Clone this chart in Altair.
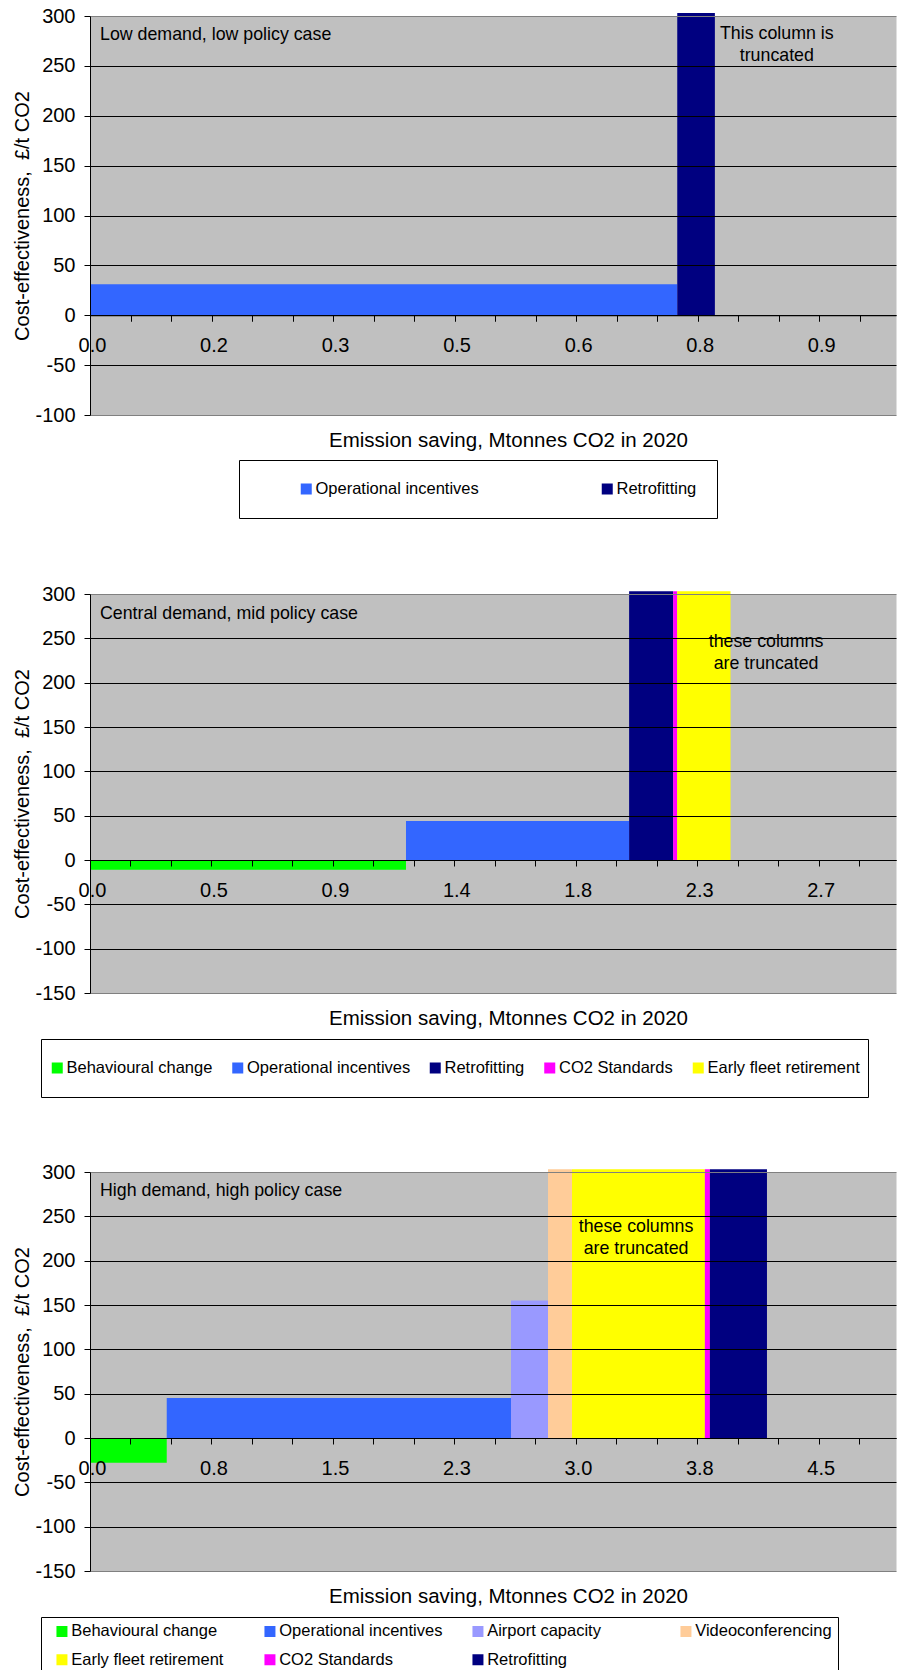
import json

import altair as alt
import pandas as pd

FONT = "Liberation Sans, Arial, sans-serif"

# Colour of each measure, identical in all three cases
COLOURS = {
    "Behavioural change": "#00FF00",
    "Operational incentives": "#3366FF",
    "Airport capacity": "#9999FF",
    "Videoconferencing": "#FFCC99",
    "Early fleet retirement": "#FFFF00",
    "CO2 Standards": "#FF00FF",
    "Retrofitting": "#000080",
}

CUT = 303  # off-scale columns are drawn up to here (just past the 300 limit)

# ---- Low demand, low policy case
LOW_MEASURES = ["Operational incentives", "Retrofitting"]
LOW_SAVING = [0.749, 0.048]  # Mt CO2 saved in 2020
LOW_COST = [31, CUT]  # £/t CO2
LOW_TICKS = ["0.0", "0.2", "0.3", "0.5", "0.6", "0.8", "0.9"]
LOW_TICK_STEP = 0.155
LOW_X_MAX = 1.028

# ---- Central demand, mid policy case
MID_MEASURES = ["Behavioural change", "Operational incentives", "Retrofitting",
                "CO2 Standards", "Early fleet retirement"]
MID_SAVING = [1.184, 0.836, 0.165, 0.015, 0.200]
MID_COST = [-11, 44, CUT, CUT, CUT]
MID_TICKS = ["0.0", "0.5", "0.9", "1.4", "1.8", "2.3", "2.7"]
MID_TICK_STEP = 0.455
MID_X_MAX = 3.02

# ---- High demand, high policy case
HIGH_MEASURES = ["Behavioural change", "Operational incentives", "Airport capacity",
                 "Videoconferencing", "Early fleet retirement", "CO2 Standards",
                 "Retrofitting"]
HIGH_SAVING = [0.477, 2.140, 0.230, 0.149, 0.826, 0.031, 0.355]
HIGH_COST = [-28, 45, 155, CUT, CUT, CUT, CUT]
HIGH_TICKS = ["0.0", "0.8", "1.5", "2.3", "3.0", "3.8", "4.5"]
HIGH_TICK_STEP = 0.755
HIGH_X_MAX = 5.01

W, H = 806, 399
Y_MAX = 300
X_TITLE = "Emission saving, Mtonnes CO2 in 2020"
Y_TITLE = "Cost-effectiveness,\u00a0 £/t CO2"
FRAME = "#808080"


def case_panel(name, measures, saving, cost, ticks, step, x_max, y_min,
               name_y, note, note_x, note_y, x_title_y, legend):
    ends, total = [], 0.0
    for s in saving:
        total += s
        ends.append(round(total, 4))
    starts = [0.0] + ends[:-1]
    bars_df = pd.DataFrame({"measure": measures, "start": starts,
                            "end": ends, "cost": cost})

    x_scale = alt.Scale(domain=[0, x_max], nice=False, zero=False)
    y_scale = alt.Scale(domain=[y_min, Y_MAX], nice=False, zero=False)

    # minor ticks every third of a label step, labels on every third tick
    minor = step / 3
    n = int(x_max / minor + 1e-9)
    tick_values = [round(k * minor, 6) for k in range(n + 1) if k * minor < x_max]
    idx = f"round(datum.value / {minor})"
    label_expr = (f"({idx} % 3 == 0 && {idx} / 3 < {len(ticks)}) ? "
                  f"{json.dumps(ticks)}[{idx} / 3] : ''")
    zero_from_bottom = H * (0 - y_min) / (Y_MAX - y_min)

    # the horizontal axis sits on the zero line
    x_axis = alt.Axis(
        values=tick_values, labelExpr=label_expr, offset=-zero_from_bottom,
        grid=False, domainColor="black", domainWidth=1,
        tickColor="black", tickSize=6, tickWidth=1,
        labelFont=FONT, labelFontSize=20, labelColor="black", labelPadding=14,
        labelFlush=False, labelOverlap=False, labelBound=False, labelOffset=2,
        title=X_TITLE, titleFont=FONT, titleFontSize=20.5, titleFontWeight="normal",
        titleColor="black", titleX=W / 2 + 15, titleY=x_title_y,
        titleAlign="center", titleBaseline="middle", zindex=1,
    )
    # top and bottom gridlines double as the grey frame of the plot area
    y_axis = alt.Axis(
        values=list(range(y_min, Y_MAX + 1, 50)),
        labelExpr="'' + datum.value",
        grid=True, gridWidth=1,
        gridColor={"condition": {"test": f"datum.value == {Y_MAX} || datum.value == {y_min}",
                                 "value": FRAME},
                   "value": "black"},
        domainColor="black", domainWidth=1,
        tickColor="black", tickSize=6, tickWidth=1,
        labelFont=FONT, labelFontSize=20, labelColor="black", labelPadding=9,
        title=Y_TITLE, titleFont=FONT, titleFontSize=20, titleFontWeight="normal",
        titleColor="black", titleX=-67.5, titleBaseline="middle", zindex=1,
    )

    bars = alt.Chart(bars_df).mark_rect().encode(
        x=alt.X("start:Q", scale=x_scale, axis=x_axis),
        x2="end:Q",
        y=alt.Y("cost:Q", scale=y_scale, axis=y_axis),
        y2=alt.datum(0),
        color=alt.Color("measure:N",
                        scale=alt.Scale(domain=measures,
                                        range=[COLOURS[m] for m in measures]),
                        legend=legend),
    )

    name_layer = alt.Chart(pd.DataFrame({"label": [name], "start": [0.0], "cost": [name_y]})).mark_text(
        align="left", baseline="middle", dx=10, fontSize=17.8, color="black", font=FONT,
    ).encode(
        x=alt.X("start:Q", scale=x_scale, axis=x_axis),
        y=alt.Y("cost:Q", scale=y_scale, axis=y_axis),
        text="label:N",
    )

    note_layer = alt.Chart(pd.DataFrame({"label": [note], "start": [note_x], "cost": [note_y]})).mark_text(
        align="center", baseline="middle", fontSize=17.8, color="black", font=FONT,
        lineBreak="\n", lineHeight=22,
    ).encode(
        x=alt.X("start:Q", scale=x_scale, axis=x_axis),
        y=alt.Y("cost:Q", scale=y_scale, axis=y_axis),
        text="label:N",
    )

    return alt.layer(bars, name_layer, note_layer).properties(width=W, height=H)


def boxed_legend(x, y, padding, entry_height, column_padding, columns=0,
                 row_padding=0, grid_align="each", lead=None):
    opts = dict(
        orient="none", legendX=x, legendY=y, direction="horizontal",
        columns=columns, gridAlign=grid_align,
        columnPadding=column_padding, rowPadding=row_padding,
        symbolType="square", symbolSize=121, symbolStrokeWidth=0, symbolOpacity=1,
        labelFont=FONT, labelFontSize=16.5, labelColor="black", labelLimit=400,
        labelOffset=1, clipHeight=entry_height,
        strokeColor="black", padding=padding,
    )
    if lead is None:
        opts["title"] = None
    else:
        # a blank left-hand title widens the frame on the left only
        opts.update(title="\u00a0", titleOrient="left", titleFontSize=1,
                    titlePadding=lead)
    return alt.Legend(**opts)


low = case_panel(
    "Low demand, low policy case", LOW_MEASURES, LOW_SAVING, LOW_COST,
    LOW_TICKS, LOW_TICK_STEP, LOW_X_MAX, -100,
    name_y=281, note="This column is\ntruncated", note_x=0.876, note_y=282,
    x_title_y=125,
    legend=boxed_legend(149, 444, 20, 18, 120, lead=39),
)

mid = case_panel(
    "Central demand, mid policy case", MID_MEASURES, MID_SAVING, MID_COST,
    MID_TICKS, MID_TICK_STEP, MID_X_MAX, -150,
    name_y=277.5, note="these columns\nare truncated", note_x=2.533, note_y=246,
    x_title_y=158.5,
    legend=boxed_legend(-49, 445, 8, 42, 16.5),
)

high = case_panel(
    "High demand, high policy case", HIGH_MEASURES, HIGH_SAVING, HIGH_COST,
    HIGH_TICKS, HIGH_TICK_STEP, HIGH_X_MAX, -150,
    name_y=279, note="these columns\nare truncated", note_x=3.394, note_y=238,
    x_title_y=158.5,
    legend=boxed_legend(-49, 445, 6, 16.5, 27, columns=4, row_padding=11.5,
                        grid_align="all", lead=6.7),
)

chart = (
    alt.vconcat(low, mid, high, spacing=179, bounds="flush")
    .resolve_scale(x="independent", y="independent", color="independent")
    .resolve_legend(color="independent")
    .properties(padding={"left": 12, "top": 5, "right": 0, "bottom": 0})
    .configure(font=FONT, background="white")
    .configure_view(fill="#C0C0C0", stroke="transparent")
)

chart.save("out.html", embed_options={"renderer": "svg", "actions": False})
